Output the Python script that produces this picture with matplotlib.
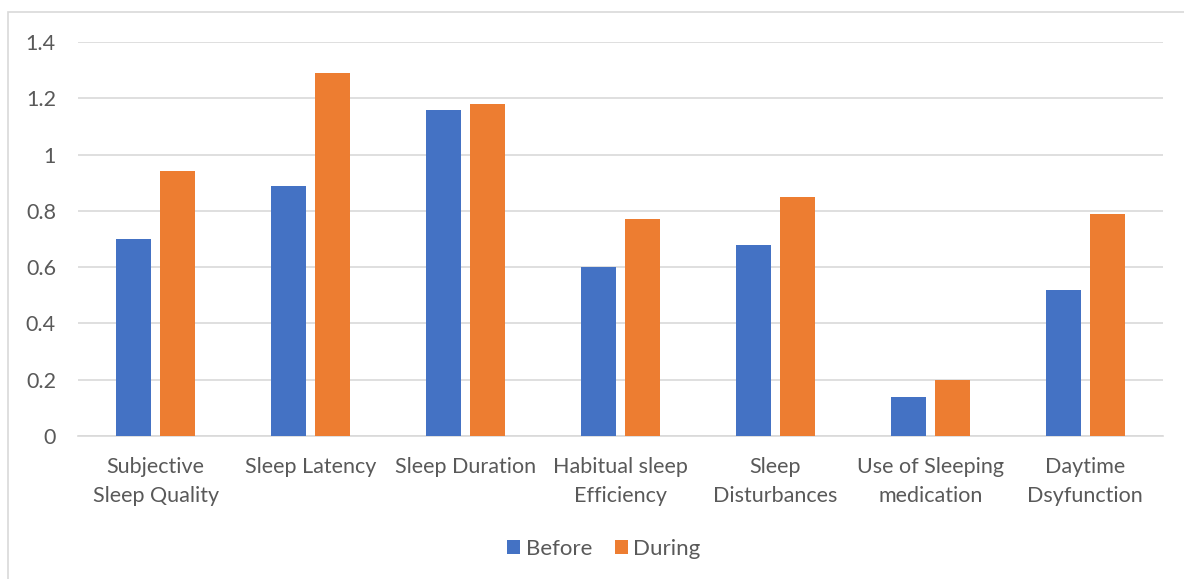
import numpy as np
import matplotlib.pyplot as plt
from matplotlib.patches import Rectangle

categories = ['Subjective\nSleep Quality', 'Sleep Latency', 'Sleep Duration',
              'Habitual sleep\nEfficiency', 'Sleep\nDisturbances',
              'Use of Sleeping\nmedication', 'Daytime\nDsyfunction']
before = [0.70, 0.89, 1.16, 0.60, 0.68, 0.14, 0.52]
during = [0.94, 1.29, 1.18, 0.77, 0.85, 0.20, 0.79]

plt.rcParams['font.family'] = ['Lato', 'DejaVu Sans']

fig = plt.figure(figsize=(11.84, 5.79), dpi=100)
ax = fig.add_axes([0.066, 0.247, 0.916, 0.6805])

x = np.arange(len(categories))
w = 0.226
ax.bar(x - 0.142, before, w, color='#4472c4', label='Before', zorder=3)
ax.bar(x + 0.142, during, w, color='#ed7d31', label='During', zorder=3)

ax.set_xlim(-0.5, len(categories) - 0.5)
ax.set_ylim(0, 1.4)
ax.set_yticks([0, 0.2, 0.4, 0.6, 0.8, 1, 1.2, 1.4])
ax.set_yticklabels(['0', '0.2', '0.4', '0.6', '0.8', '1', '1.2', '1.4'])
ax.set_xticks(x)
ax.set_xticklabels(categories, linespacing=1.6)
ax.tick_params(axis='both', length=0, labelsize=15.5, colors='#595959')
ax.tick_params(axis='y', pad=16)
ax.tick_params(axis='x', pad=15)
ax.grid(axis='y', color='#d9d9d9', linewidth=1.2, zorder=0)
for s in ['top', 'right', 'left']:
    ax.spines[s].set_visible(False)
ax.spines['bottom'].set_color('#d9d9d9')
ax.spines['bottom'].set_linewidth(1.2)

leg = fig.legend(loc='center', bbox_to_anchor=(0.51, 0.052), ncol=2, frameon=False,
                 fontsize=16, handlelength=0.6, handleheight=0.6,
                 handletextpad=0.25, columnspacing=1.0)
for t in leg.get_texts():
    t.set_color('#595959')

fig.patches.append(Rectangle((8 / 1184, -0.01), 1.0, 1 - 12 / 579 + 0.01,
                             transform=fig.transFigure, fill=False,
                             edgecolor='#d9d9d9', linewidth=1.2))

fig.savefig('out.png', dpi=100)
